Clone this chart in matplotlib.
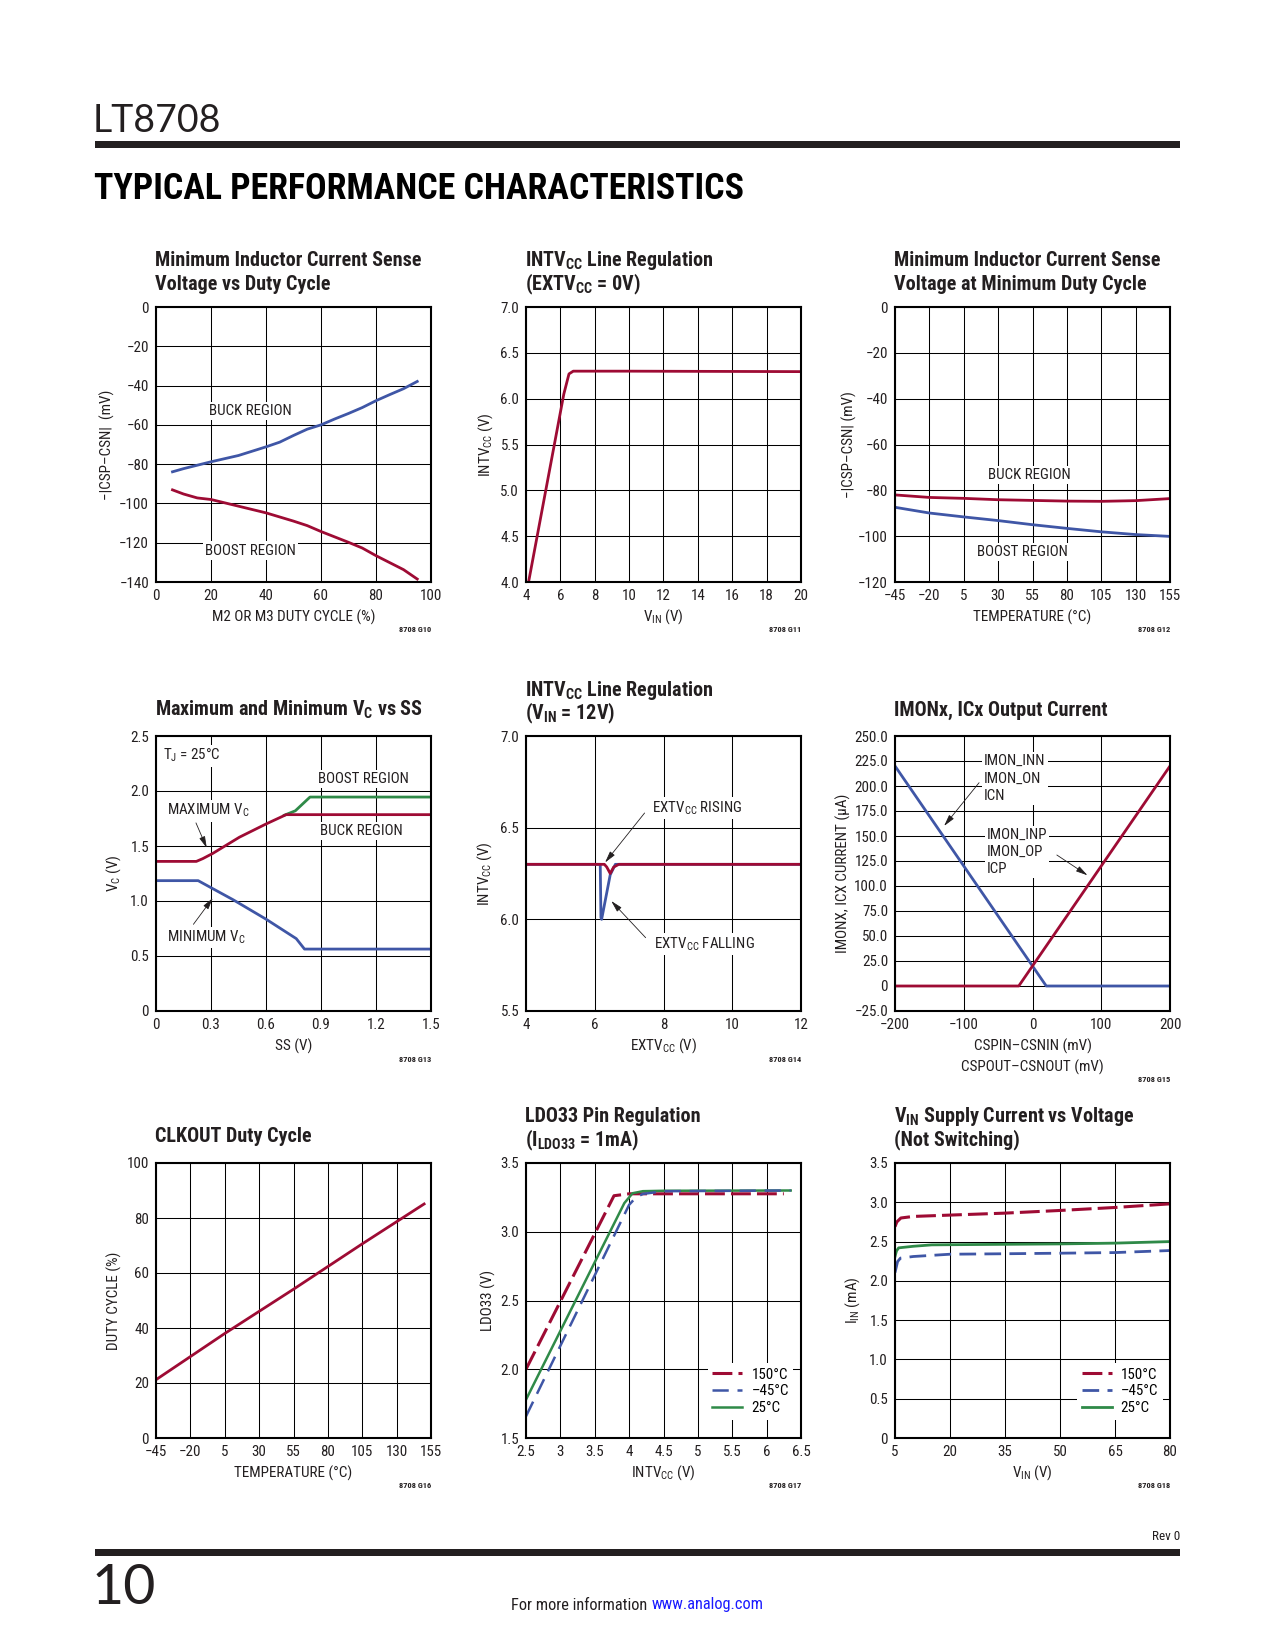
import matplotlib
matplotlib.use("Agg")
import matplotlib.pyplot as plt
from matplotlib import font_manager as fm
from matplotlib.patches import Rectangle

# ---------------- data ----------------
# G10 min inductor current sense voltage vs duty cycle
g10_duty_buck = [6, 10, 20, 30, 40, 45, 50, 55, 60, 65, 70, 75, 80, 85, 90, 95]
g10_buck = [-83.9, -82.3, -78.8, -75.6, -71.2, -68.8, -65.4, -62.2, -60.0, -57.0,
            -54.2, -51.2, -47.7, -44.6, -41.6, -37.9]
g10_duty_boost = [6, 10, 15, 20, 30, 40, 50, 55, 60, 70, 75, 80, 90, 95]
g10_boost = [-93.1, -95.2, -97.2, -98.0, -101.4, -104.8, -109.0, -111.3, -114.3,
             -119.8, -122.7, -126.6, -133.7, -138.5]

# G11 INTVcc line regulation (EXTVcc = 0V)
g11_vin = [4.15, 6.2, 6.5, 6.75, 10, 14, 20]
g11_intvcc = [4.0, 6.05, 6.27, 6.30, 6.30, 6.298, 6.295]

# G12 min sense voltage at min duty cycle vs temperature
g12_temp = [-45, -20, 5, 30, 55, 80, 105, 130, 155]
g12_buck = [-82.0, -83.1, -83.5, -84.1, -84.4, -84.7, -84.8, -84.5, -83.6]
g12_boost = [-87.4, -89.9, -91.6, -93.2, -95.0, -96.6, -98.1, -99.3, -100.1]

# G13 max / min Vc vs SS
g13_ss_max = [0, 0.22, 0.255, 0.31, 0.455, 0.6, 0.71, 1.5]
g13_vc_max_buck = [1.36, 1.36, 1.385, 1.433, 1.58, 1.70, 1.785, 1.785]
g13_ss_boost = [0.70, 0.76, 0.84, 1.5]
g13_vc_max_boost = [1.78, 1.82, 1.945, 1.945]
g13_ss_min = [0, 0.23, 0.31, 0.42, 0.6, 0.765, 0.81, 1.5]
g13_vc_min = [1.185, 1.185, 1.112, 1.012, 0.835, 0.658, 0.563, 0.563]

# G14 INTVcc line regulation (VIN = 12V)
g14_ext_fall = [4, 6.16, 6.18, 6.20, 6.45, 6.6, 12]
g14_int_fall = [6.30, 6.30, 6.01, 6.0, 6.243, 6.30, 6.30]
g14_ext_rise = [4, 6.28, 6.35, 6.45, 6.55, 6.7, 12]
g14_int_rise = [6.30, 6.30, 6.285, 6.25, 6.285, 6.30, 6.30]

# G15 IMONx, ICx output current
g15_diff = [-200, -20, 20, 200]
g15_neg = [220, 40, 0, 0]
g15_pos = [0, 0, 40, 220]

# G16 CLKOUT duty cycle
g16_temp = [-45, 5, 55, 105, 150]
g16_duty = [21.2, 38.0, 54.1, 70.6, 85.1]

# G17 LDO33 pin regulation
g17_v_150 = [2.5, 3.78, 4.0, 6.25]
g17_ldo_150 = [2.0, 3.262, 3.276, 3.276]
g17_v_m45 = [2.5, 4.0, 4.1, 4.2, 4.5, 6.35]
g17_ldo_m45 = [1.658, 3.196, 3.25, 3.275, 3.295, 3.30]
g17_v_25 = [2.5, 3.93, 4.05, 4.2, 4.5, 6.35]
g17_ldo_25 = [1.779, 3.208, 3.28, 3.295, 3.298, 3.30]

# G18 VIN supply current vs voltage
g18_vin_150 = [5, 5.5, 6.6, 10, 20, 35, 50, 65, 80]
g18_iin_150 = [2.69, 2.75, 2.80, 2.82, 2.837, 2.862, 2.896, 2.934, 2.98]
g18_vin_m45 = [5, 5.7, 6.5, 10, 20, 35, 50, 65, 80]
g18_iin_m45 = [2.105, 2.245, 2.29, 2.31, 2.339, 2.345, 2.352, 2.36, 2.386]
g18_vin_25 = [5, 5.4, 6, 10, 15, 20, 35, 50, 65, 80]
g18_iin_25 = [2.31, 2.38, 2.42, 2.44, 2.458, 2.46, 2.465, 2.47, 2.48, 2.50]

temp_labels = ["150°C", "\u201345°C", "25°C"]

# ticks
g10_xt = [0, 20, 40, 60, 80, 100]
g10_yt = [-140, -120, -100, -80, -60, -40, -20, 0]
g11_xt = [4, 6, 8, 10, 12, 14, 16, 18, 20]
g11_yt = [4.0, 4.5, 5.0, 5.5, 6.0, 6.5, 7.0]
temp_xt = [-45, -20, 5, 30, 55, 80, 105, 130, 155]
g12_yt = [-120, -100, -80, -60, -40, -20, 0]
g13_xt = [0, 0.3, 0.6, 0.9, 1.2, 1.5]
g13_yt = [0, 0.5, 1.0, 1.5, 2.0, 2.5]
g14_xt = [4, 6, 8, 10, 12]
g14_yt = [5.5, 6.0, 6.5, 7.0]
g15_xt = [-200, -100, 0, 100, 200]
g15_yt = [-25, 0, 25, 50, 75, 100, 125, 150, 175, 200, 225, 250]
g16_yt = [0, 20, 40, 60, 80, 100]
g17_xt = [2.5, 3, 3.5, 4, 4.5, 5, 5.5, 6, 6.5]
g17_yt = [1.5, 2.0, 2.5, 3.0, 3.5]
g18_xt = [5, 20, 35, 50, 65, 80]
g18_yt = [0, 0.5, 1.0, 1.5, 2.0, 2.5, 3.0, 3.5]

# ---------------- style ----------------
W, H = 1275, 1650
names = {f.name for f in fm.fontManager.ttflist}
NARROW = "Liberation Sans"
SC = 0.84  # regular-width fallback needs smaller sizes than the condensed original
for cand in ["Roboto Condensed", "Liberation Sans Narrow", "Open Sans Condensed"]:
    if cand in names:
        NARROW = cand
        SC = 1.0
        break
LIGHT = "Lato" if "Lato" in names else "DejaVu Sans"

plt.rcParams["font.family"] = [NARROW, "DejaVu Sans"]
plt.rcParams["mathtext.fontset"] = "custom"
plt.rcParams["mathtext.rm"] = NARROW
plt.rcParams["mathtext.it"] = NARROW + ":italic"
plt.rcParams["mathtext.bf"] = NARROW + ":bold"
plt.rcParams["mathtext.sf"] = NARROW

RED = "#9e0b34"
BLUE = "#3f56a6"
GREEN = "#2f8a48"
INK = "#231f20"
BOX = dict(facecolor="white", edgecolor="none", pad=1.5)
FS_TICK = 10.8 * SC
FS_LAB = 10.9 * SC
FS_NOTE = 10.8 * SC
FS_TITLE = 14.5 * SC

COLS = [(156, 431), (526, 801), (895, 1170)]
ROWS = [(307, 582), (736, 1011), (1163, 1438)]

fig = plt.figure(figsize=(W / 100, H / 100), dpi=100)


def fx(x):
    return x / W


def fy(y):
    return 1 - y / H


def make_axes(c, r):
    x0, x1 = COLS[c]
    y0, y1 = ROWS[r]
    return fig.add_axes([fx(x0), fy(y1), (x1 - x0) / W, (y1 - y0) / H])


def fmt(vals, spec, zero=None):
    out = []
    for v in vals:
        if zero is not None and v == 0:
            out.append(zero)
        else:
            out.append(spec.format(v).replace("-", "\u2212"))
    return out


def style(ax, xlim, ylim, xt, yt, xtl, ytl, xlabel, ylabel, yoff, xoff=35):
    ax.set_xlim(xlim)
    ax.set_ylim(ylim)
    ax.set_xticks(xt)
    ax.set_yticks(yt)
    ax.set_xticklabels(xtl)
    ax.set_yticklabels(ytl)
    ax.tick_params(length=0, labelsize=FS_TICK, colors=INK, pad=5)
    ax.grid(True, color="black", lw=0.75)
    ax.set_axisbelow(True)
    for s in ax.spines.values():
        s.set_linewidth(1.5)
        s.set_color("black")
    ax.set_xlabel(xlabel, fontsize=FS_LAB, color=INK, va="center", linespacing=1.45)
    ax.set_ylabel(ylabel, fontsize=FS_LAB, color=INK, va="center", ha="center")
    ax.xaxis.set_label_coords(0.5, -xoff / 275)
    ax.yaxis.set_label_coords(-yoff / 275, 0.5)


def note(ax, x, y, s, ha="center", **kw):
    ax.text(x, y, s, fontsize=FS_NOTE, color=INK, ha=ha, va="center", bbox=BOX, **kw)


def title(c, r, lines):
    x0 = COLS[c][0] - 1
    top = ROWS[r][0]
    offs = [46, 23] if len(lines) == 2 else [26]
    for t, o in zip(lines, offs):
        fig.text(fx(x0), fy(top - o), t, fontsize=FS_TITLE, weight="bold",
                 color=INK, va="center", ha="left")


def foot(c, r, tag, off=48):
    fig.text(fx(COLS[c][1]), fy(ROWS[r][1] + off), tag, fontsize=6,
             weight="bold", color=INK, ha="right", va="center")


def temp_legend(ax, handles, labels):
    ax.legend(handles, labels, loc="lower right", bbox_to_anchor=(1.0, 0.04),
              fontsize=FS_NOTE, handlelength=2.0, labelspacing=0.18,
              handletextpad=0.6, borderpad=0.3, frameon=True, fancybox=False,
              framealpha=1, edgecolor="none")


ARROW = dict(arrowstyle="-|>,head_length=0.7,head_width=0.18", lw=0.6,
             color=INK, shrinkA=0, shrinkB=0)

# ---------------- G10 ----------------
ax = make_axes(0, 0)
ax.plot(g10_duty_buck, g10_buck, color=BLUE, lw=2)
ax.plot(g10_duty_boost, g10_boost, color=RED, lw=2)
style(ax, (0, 100), (-140, 0), g10_xt, g10_yt, fmt(g10_xt, "{:d}"),
      fmt(g10_yt, "{:d}"), "M2 OR M3 DUTY CYCLE (%)",
      "\u2212|CSP\u2013CSN|  (mV)", 49)
note(ax, 34.3, -53, "BUCK REGION")
note(ax, 34.3, -124, "BOOST REGION")
title(0, 0, ["Minimum Inductor Current Sense", "Voltage vs Duty Cycle"])
foot(0, 0, "8708 G10")

# ---------------- G11 ----------------
ax = make_axes(1, 0)
ax.plot(g11_vin, g11_intvcc, color=RED, lw=2)
style(ax, (4, 20), (4.0, 7.0), g11_xt, g11_yt, fmt(g11_xt, "{:d}"),
      fmt(g11_yt, "{:.1f}"), "V$_\\mathrm{IN}$ (V)",
      "INTV$_\\mathrm{CC}$ (V)", 40)
title(1, 0, ["INTV$_\\mathbf{CC}$ Line Regulation",
             "(EXTV$_\\mathbf{CC}$ = 0V)"])
foot(1, 0, "8708 G11")

# ---------------- G12 ----------------
ax = make_axes(2, 0)
ax.plot(g12_temp, g12_buck, color=RED, lw=2)
ax.plot(g12_temp, g12_boost, color=BLUE, lw=2)
style(ax, (-45, 155), (-120, 0), temp_xt, g12_yt, fmt(temp_xt, "{:d}"),
      fmt(g12_yt, "{:d}"), "TEMPERATURE (°C)",
      "\u2212|CSP\u2013CSN| (mV)", 46)
note(ax, 52.9, -73.2, "BUCK REGION")
note(ax, 48, -107, "BOOST REGION")
title(2, 0, ["Minimum Inductor Current Sense", "Voltage at Minimum Duty Cycle"])
foot(2, 0, "8708 G12")

# ---------------- G13 ----------------
ax = make_axes(0, 1)
ax.plot(g13_ss_boost, g13_vc_max_boost, color=GREEN, lw=2)
ax.plot(g13_ss_max, g13_vc_max_buck, color=RED, lw=2)
ax.plot(g13_ss_min, g13_vc_min, color=BLUE, lw=2)
style(ax, (0, 1.5), (0, 2.5), g13_xt, g13_yt, fmt(g13_xt, "{:g}"),
      fmt(g13_yt, "{:.1f}", zero="0"), "SS (V)", "V$_\\mathrm{C}$ (V)", 42)
note(ax, 0.036, 2.32, "T$_\\mathrm{J}$ = 25°C", ha="left")
note(ax, 1.13, 2.11, "BOOST REGION")
note(ax, 1.12, 1.636, "BUCK REGION")
note(ax, 0.058, 1.82, "MAXIMUM V$_\\mathrm{C}$", ha="left")
note(ax, 0.058, 0.667, "MINIMUM V$_\\mathrm{C}$", ha="left")
ax.annotate("", xy=(0.277, 1.482), xytext=(0.218, 1.71), arrowprops=ARROW)
ax.annotate("", xy=(0.31, 1.027), xytext=(0.204, 0.788), arrowprops=ARROW)
title(0, 1, ["Maximum and Minimum V$_\\mathbf{C}$ vs SS"])
foot(0, 1, "8708 G13")

# ---------------- G14 ----------------
ax = make_axes(1, 1)
ax.plot(g14_ext_fall, g14_int_fall, color=BLUE, lw=2)
ax.plot(g14_ext_rise, g14_int_rise, color=RED, lw=2)
style(ax, (4, 12), (5.5, 7.0), g14_xt, g14_yt, fmt(g14_xt, "{:d}"),
      fmt(g14_yt, "{:.1f}"), "EXTV$_\\mathrm{CC}$ (V)",
      "INTV$_\\mathrm{CC}$ (V)", 41)
note(ax, 7.67, 6.607, "EXTV$_\\mathrm{CC}$ RISING", ha="left")
note(ax, 7.71, 5.866, "EXTV$_\\mathrm{CC}$ FALLING", ha="left")
ax.annotate("", xy=(6.30, 6.31), xytext=(7.45, 6.58), arrowprops=ARROW)
ax.annotate("", xy=(6.48, 6.10), xytext=(7.48, 5.90), arrowprops=ARROW)
title(1, 1, ["INTV$_\\mathbf{CC}$ Line Regulation", "(V$_\\mathbf{IN}$ = 12V)"])
foot(1, 1, "8708 G14")

# ---------------- G15 ----------------
ax = make_axes(2, 1)
ax.plot(g15_diff, g15_neg, color=BLUE, lw=2)
ax.plot(g15_diff, g15_pos, color=RED, lw=2)
style(ax, (-200, 200), (-25, 250), g15_xt, g15_yt, fmt(g15_xt, "{:d}"),
      fmt(g15_yt, "{:.1f}", zero="0"),
      "CSPIN\u2013CSNIN (mV)\nCSPOUT\u2013CSNOUT (mV)",
      "IMONX, ICX CURRENT (\u00b5A)", 52, xoff=46)
note(ax, -70.4, 207.5, "IMON_INN\nIMON_ON\nICN", ha="left", linespacing=1.3)
note(ax, -66.5, 134, "IMON_INP\nIMON_OP\nICP", ha="left", linespacing=1.3)
ax.annotate("", xy=(-128.6, 160), xytext=(-77.7, 203.3), arrowprops=ARROW)
ax.annotate("", xy=(80, 110.7), xytext=(35.4, 131), arrowprops=ARROW)
title(2, 1, ["IMONx, ICx Output Current"])
foot(2, 1, "8708 G15", off=69)

# ---------------- G16 ----------------
ax = make_axes(0, 2)
ax.plot(g16_temp, g16_duty, color=RED, lw=2)
style(ax, (-45, 155), (0, 100), temp_xt, g16_yt, fmt(temp_xt, "{:d}"),
      fmt(g16_yt, "{:d}"), "TEMPERATURE (°C)", "DUTY CYCLE (%)", 42)
title(0, 2, ["CLKOUT Duty Cycle"])
foot(0, 2, "8708 G16")

# ---------------- G17 ----------------
ax = make_axes(1, 2)
l150, = ax.plot(g17_v_150, g17_ldo_150, color=RED, lw=2.2, dashes=(6.5, 2))
l25, = ax.plot(g17_v_25, g17_ldo_25, color=GREEN, lw=1.8)
lm45, = ax.plot(g17_v_m45, g17_ldo_m45, color=BLUE, lw=1.8, dashes=(6.5, 3.5))
style(ax, (2.5, 6.5), (1.5, 3.5), g17_xt, g17_yt, fmt(g17_xt, "{:g}"),
      fmt(g17_yt, "{:.1f}"), "INTV$_\\mathrm{CC}$ (V)", "LDO33 (V)", 38)
temp_legend(ax, [l150, lm45, l25], temp_labels)
title(1, 2, ["LDO33 Pin Regulation", "(I$_\\mathbf{LDO33}$ = 1mA)"])
foot(1, 2, "8708 G17")

# ---------------- G18 ----------------
ax = make_axes(2, 2)
l150, = ax.plot(g18_vin_150, g18_iin_150, color=RED, lw=2.2, dashes=(6.5, 2))
lm45, = ax.plot(g18_vin_m45, g18_iin_m45, color=BLUE, lw=2, dashes=(6, 3))
l25, = ax.plot(g18_vin_25, g18_iin_25, color=GREEN, lw=2)
style(ax, (5, 80), (0, 3.5), g18_xt, g18_yt, fmt(g18_xt, "{:d}"),
      fmt(g18_yt, "{:.1f}", zero="0"), "V$_\\mathrm{IN}$ (V)",
      "I$_\\mathrm{IN}$ (mA)", 42)
temp_legend(ax, [l150, lm45, l25], temp_labels)
title(2, 2, ["V$_\\mathbf{IN}$ Supply Current vs Voltage", "(Not Switching)"])
foot(2, 2, "8708 G18")

# ---------------- page furniture ----------------
fig.text(fx(93), fy(121), "LT8708", fontsize=27, family=LIGHT, weight="normal",
         color=INK, va="center", ha="left")
fig.add_artist(Rectangle((fx(95), fy(148)), (1180 - 95) / W, 7 / H,
                         transform=fig.transFigure, color=INK, lw=0))
fig.text(fx(94), fy(189), "TYPICAL PERFORMANCE CHARACTERISTICS", fontsize=25.8 * SC,
         weight="heavy", color="black", va="center", ha="left")

fig.text(fx(1180), fy(1537), "Rev 0", fontsize=9.5 * SC, color=INK, ha="right",
         va="center")
fig.add_artist(Rectangle((fx(95), fy(1556)), (1180 - 95) / W, 7 / H,
                         transform=fig.transFigure, color=INK, lw=0))
fig.text(fx(92), fy(1588), "10", fontsize=40, family=LIGHT, weight="normal",
         color=INK, va="center", ha="left")
fig.text(fx(511), fy(1605), "For more information", fontsize=11.8 * SC, color=INK,
         ha="left", va="center")
fig.text(fx(652), fy(1605), "www.analog.com", fontsize=11.8 * SC, color="#1a1aff",
         ha="left", va="center")

fig.savefig("out.png", dpi=100, facecolor="white")
